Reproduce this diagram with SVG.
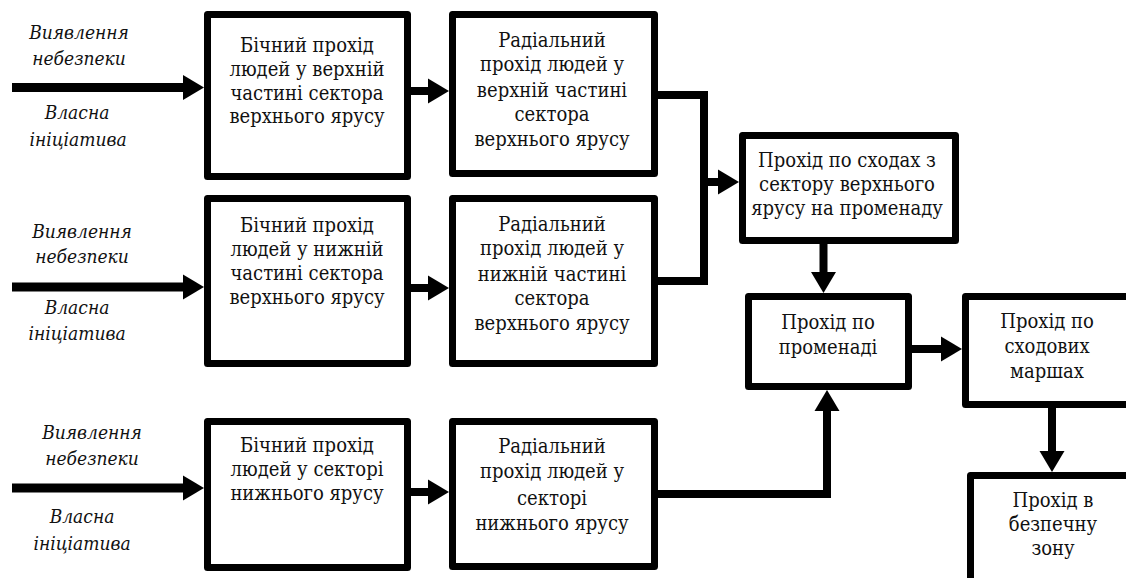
<svg xmlns="http://www.w3.org/2000/svg" width="1126" height="578" viewBox="0 0 1126 578">
  <style>
    .box { fill: #fff; stroke: #000; stroke-width: 7; stroke-linejoin: round; }
    .t { font-family: "DejaVu Serif", "Liberation Serif", serif; font-size: 20px; font-stretch: condensed; fill: #111; text-anchor: middle; }
    .lbl { font-family: "DejaVu Serif", "Liberation Serif", serif; font-size: 19px; font-stretch: condensed; font-style: italic; fill: #111; text-anchor: middle; }
    .wire { fill: none; stroke: #000; stroke-width: 8; stroke-linejoin: miter; }
    .input { fill: none; stroke: #000; stroke-width: 9; }
  </style>
  <defs>
    <marker id="head" markerUnits="userSpaceOnUse" markerWidth="22" markerHeight="26" refX="0" refY="12.5" orient="auto" overflow="visible">
      <path d="M0,0 L21,12.5 L0,25 Z" fill="#000"/>
    </marker>
  </defs>
  <rect width="1126" height="578" fill="#fff"/>

  <!-- connectors -->
  <g id="connectors">
    <path class="input" d="M12,87.5 H183" marker-end="url(#head)"/>
    <path class="input" d="M12,287 H183" marker-end="url(#head)"/>
    <path class="input" d="M12,488 H183" marker-end="url(#head)"/>
    <path class="wire" d="M411,91 H428" marker-end="url(#head)"/>
    <path class="wire" d="M411,288 H428" marker-end="url(#head)"/>
    <path class="wire" d="M411,492 H428" marker-end="url(#head)"/>
    <path class="wire" d="M658,95 H704 V281 H658"/>
    <path class="wire" d="M704,182 H718" marker-end="url(#head)"/>
    <path class="wire" d="M823.5,244 V272" marker-end="url(#head)"/>
    <path class="wire" d="M658,494 H827 V411" marker-end="url(#head)"/>
    <path class="wire" d="M912,349 H941" marker-end="url(#head)"/>
    <path class="wire" d="M1052,408 V451" marker-end="url(#head)"/>
  </g>

  <!-- trigger labels -->
  <g id="labels-top">
    <text class="lbl" x="79" y="39">Виявлення</text>
    <text class="lbl" x="79" y="65">небезпеки</text>
    <text class="lbl" x="77" y="119">Власна</text>
    <text class="lbl" x="78" y="146">ініціатива</text>
  </g>
  <g id="labels-mid">
    <text class="lbl" x="82" y="238">Виявлення</text>
    <text class="lbl" x="82" y="263">небезпеки</text>
    <text class="lbl" x="77" y="314">Власна</text>
    <text class="lbl" x="77" y="340">ініціатива</text>
  </g>
  <g id="labels-bottom">
    <text class="lbl" x="92" y="439">Виявлення</text>
    <text class="lbl" x="92" y="465">небезпеки</text>
    <text class="lbl" x="82" y="523">Власна</text>
    <text class="lbl" x="82" y="550">ініціатива</text>
  </g>

  <g id="side-upper-top">
    <rect class="box" x="207.5" y="14.5" width="200" height="162"/>
    <text class="t" x="307" y="52">Бічний прохід</text>
    <text class="t" x="307" y="76">людей у верхній</text>
    <text class="t" x="307" y="100">частині сектора</text>
    <text class="t" x="307" y="123">верхнього ярусу</text>
  </g>
  <g id="radial-upper-top">
    <rect class="box" x="452.5" y="14.5" width="202" height="159"/>
    <text class="t" x="552" y="47">Радіальний</text>
    <text class="t" x="552" y="71">прохід людей у</text>
    <text class="t" x="552" y="97">верхній частині</text>
    <text class="t" x="552" y="121">сектора</text>
    <text class="t" x="552" y="146">верхнього ярусу</text>
  </g>
  <g id="side-upper-bottom">
    <rect class="box" x="207.5" y="198.5" width="200" height="165"/>
    <text class="t" x="307" y="232">Бічний прохід</text>
    <text class="t" x="307" y="256">людей у нижній</text>
    <text class="t" x="307" y="280">частині сектора</text>
    <text class="t" x="307" y="304">верхнього ярусу</text>
  </g>
  <g id="radial-upper-bottom">
    <rect class="box" x="452.5" y="198.5" width="202" height="165"/>
    <text class="t" x="552" y="231">Радіальний</text>
    <text class="t" x="552" y="255">прохід людей у</text>
    <text class="t" x="552" y="281">нижній частині</text>
    <text class="t" x="552" y="305">сектора</text>
    <text class="t" x="552" y="330">верхнього ярусу</text>
  </g>
  <g id="stairs-upper">
    <rect class="box" x="742.5" y="135.5" width="213" height="105"/>
    <text class="t" x="847" y="167">Прохід по сходах з</text>
    <text class="t" x="847" y="191">сектору верхнього</text>
    <text class="t" x="847" y="215">ярусу на променаду</text>
  </g>
  <g id="promenade">
    <rect class="box" x="748.5" y="296.5" width="160" height="90"/>
    <text class="t" x="828" y="329">Прохід по</text>
    <text class="t" x="828" y="354">променаді</text>
  </g>
  <g id="stair-flights">
    <rect class="box" x="965.5" y="296.5" width="170" height="108"/>
    <text class="t" x="1047" y="328">Прохід по</text>
    <text class="t" x="1047" y="353">сходових</text>
    <text class="t" x="1047" y="378">маршах</text>
  </g>
  <g id="safe-zone">
    <rect class="box" x="970.5" y="475.5" width="170" height="130"/>
    <text class="t" x="1053" y="507">Прохід в</text>
    <text class="t" x="1053" y="531">безпечну</text>
    <text class="t" x="1053" y="555">зону</text>
  </g>
  <g id="side-lower">
    <rect class="box" x="207.5" y="421.5" width="200" height="146"/>
    <text class="t" x="307" y="452">Бічний прохід</text>
    <text class="t" x="307" y="476">людей у секторі</text>
    <text class="t" x="307" y="500">нижнього ярусу</text>
  </g>
  <g id="radial-lower">
    <rect class="box" x="452.5" y="421.5" width="202" height="145"/>
    <text class="t" x="552" y="453">Радіальний</text>
    <text class="t" x="552" y="478">прохід людей у</text>
    <text class="t" x="552" y="505">секторі</text>
    <text class="t" x="552" y="530">нижнього ярусу</text>
  </g>
</svg>
